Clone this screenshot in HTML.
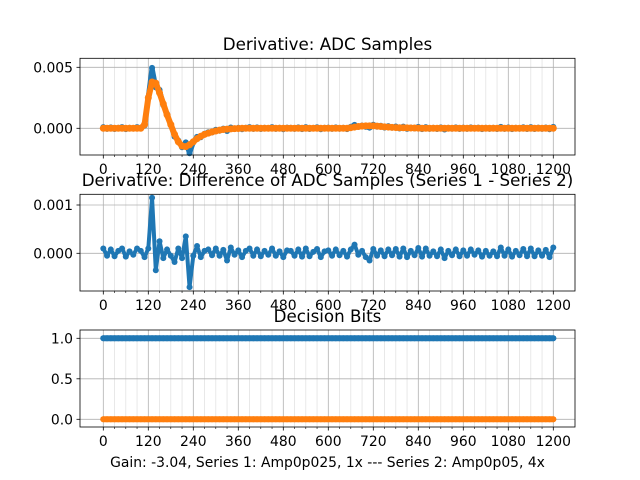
<!DOCTYPE html>
<html><head><meta charset="utf-8"><style>
body{margin:0;background:#fff}
svg{display:block}
text{font-family:"DejaVu Sans","Liberation Sans",sans-serif;fill:#000}
</style></head><body>
<svg id="fig" width="640" height="480" xmlns="http://www.w3.org/2000/svg"></svg>
<script>
// ---- data ----
const sampleStep = 10;
const xTicks = [0,120,240,360,480,600,720,840,960,1080,1200];
const series2Adc = [0,0,0,0,0,0,0,0,0,0,0,
 0.3,2.5,3.8,3.7,2.9,2.0,1.1,0.3,-0.5,-1.1,-1.45,-1.5,-1.35,-1.1,-0.85,-0.65,-0.5,-0.4,-0.3,-0.22,-0.15,-0.1,-0.07,-0.05,-0.03,-0.02,
 0,0,0,0,0,0,0,0,0,0,0,0,0,0,0,0,0,0,0,0,0,0,0,0,0,0,0,0,0,
 0.05,0.1,0.15,0.18,0.2,0.2,0.2,0.18,0.15,0.12,0.1,0.08,0.06,0.05,0.04,0.03,0.02,0.02,0.01,
 0,0,0,0,0,0,0,0,0,0,0,0,0,0,0,0,0,0,0,0,0,0,0,0,0,0,0,0,0,0,0,0,0,0,0,0];
const diffAdc = [1,-0.5,0.8,-0.6,0.5,1,-0.7,0.4,-0.3,1,0.5,-0.8,1,11.5,-3.5,2.5,-1,0.8,-0.5,-1.8,1,-1,3.5,-7,-0.5,1.5,-0.8,0.5,0.8,-0.4,1,-0.5,0.7,-1.5,1.2,-0.3,0.6,-0.8,0.5,1,-0.5,0.8,-0.6,0.5,-0.3,1,-0.5,0.4,-0.8,0.6,0.5,-0.5,0.8,-0.7,1,-0.6,0.3,0.9,-0.8,0.4,0.6,-0.5,0.8,-0.4,0.5,-0.7,0.8,1.8,-0.3,0.5,-0.8,-1.5,0.9,-0.5,0.6,-0.6,0.8,-0.4,0.9,-0.7,1,-0.8,0.5,-0.4,1.1,-0.7,1,-0.5,0.4,-0.6,0.8,-1,0.5,-0.4,0.8,-0.6,0.6,-0.5,0.8,-0.3,0.6,-0.7,0.5,-0.5,0.4,-0.6,1.2,-0.5,0.8,-0.7,0.5,-0.4,0.9,-0.6,1,-0.6,0.6,-0.5,0.7,-0.8,1.2];
const bits1 = new Array(121).fill(1);
const bits2 = new Array(121).fill(0);
const topYTicks = [0, 0.005];
const topYLabels = ["0.000","0.005"];
const midYTicks = [0, 0.001];
const midYLabels = ["0.000","0.001"];
const botYTicks = [0, 0.5, 1];
const botYLabels = ["0.0","0.5","1.0"];

const NS="http://www.w3.org/2000/svg";
const svg=document.getElementById('fig');
function el(tag,attrs,parent){const e=document.createElementNS(NS,tag);for(const k in attrs)e.setAttribute(k,attrs[k]);(parent||svg).appendChild(e);return e;}
const L=80,R=575;
const xScale=v=>103.3+v*0.375;

function panel(name,top,bottom,y0px,y1px,y1val,yt,yl,title,titleY,seriesList){
  const g=el('g',{});
  
  
  const yScale=v=>y0px+(y1px-y0px)*v/y1val;
  for(let v=0;v<=1200;v+=30){
    if(v%120===0)continue;
    const l=el('line',{x1:xScale(v),x2:xScale(v),y1:top,y2:bottom,stroke:'#e3e3e3','stroke-width':0.8},g);
    
    
    const t=el('line',{x1:xScale(v),x2:xScale(v),y1:bottom,y2:bottom+2,stroke:'#000','stroke-width':0.6},g);
    
    
  }
  xTicks.forEach(v=>{
    const l=el('line',{x1:xScale(v),x2:xScale(v),y1:top,y2:bottom,stroke:'#b0b0b0','stroke-width':0.8},g);
    
    
    el('line',{x1:xScale(v),x2:xScale(v),y1:bottom,y2:bottom+3.5,stroke:'#000','stroke-width':0.8},g);
    const t=el('text',{x:xScale(v),y:bottom+19,'text-anchor':'middle','font-size':13.9},g);
    t.textContent=v;
    
    
  });
  yt.forEach((v,i)=>{
    const y=yScale(v);
    const l=el('line',{x1:L,x2:R,y1:y,y2:y,stroke:'#b0b0b0','stroke-width':0.8},g);
    
    
    el('line',{x1:L-3.5,x2:L,y1:y,y2:y,stroke:'#000','stroke-width':0.8},g);
    const t=el('text',{x:L-7,y:y+5,'text-anchor':'end','font-size':13.9},g);
    t.textContent=yl[i];
    
    
  });
  seriesList.forEach(s=>{
    const pts=s.data.map((v,i)=>[xScale(i*sampleStep),yScale(v*s.scale)]);
    const p=el('polyline',{points:pts.map(p=>p.join(',')).join(' '),fill:'none',stroke:s.color,'stroke-width':s.w,'stroke-linejoin':'round','stroke-linecap':'round'},g);
    
    
    pts.forEach(pt=>{
      const c=el('circle',{cx:pt[0],cy:pt[1],r:s.r,fill:s.color},g);
      
      
    });
  });
  const fr=el('rect',{x:L,y:top,width:R-L,height:bottom-top,fill:'none',stroke:'#000','stroke-width':0.8},g);
  
  
  const tt=el('text',{x:(L+R)/2,y:titleY,'text-anchor':'middle','font-size':16.7},g);
  tt.textContent=title;
  
  
}

const series1Adc=series2Adc.map((v,i)=>v+(diffAdc[i]||0)*0.1);
panel('adc-samples-panel',58.3,155,128.3,67.3,0.005,topYTicks,topYLabels,'Derivative: ADC Samples',50,[
  {name:'series1',data:series1Adc,scale:0.001,color:'#1f77b4',r:3,w:5},
  {name:'series2',data:series2Adc,scale:0.001,color:'#ff7f0e',r:3.5,w:6}
]);
panel('difference-panel',194.3,291,253.3,205,0.001,midYTicks,midYLabels,'Derivative: Difference of ADC Samples (Series 1 - Series 2)',186,[
  {name:'difference',data:diffAdc,scale:0.0001,color:'#1f77b4',r:3,w:4}
]);
panel('decision-bits-panel',330,427,419.3,338.3,1,botYTicks,botYLabels,'Decision Bits',322,[
  {name:'bits-series1',data:bits1,scale:1,color:'#1f77b4',r:3,w:6},
  {name:'bits-series2',data:bits2,scale:1,color:'#ff7f0e',r:3,w:6}
]);
const xl=el('text',{x:(L+R)/2,y:467,'text-anchor':'middle','font-size':13.9});
xl.textContent='Gain: -3.04, Series 1: Amp0p025, 1x --- Series 2: Amp0p05, 4x';


</script>
</body></html>
